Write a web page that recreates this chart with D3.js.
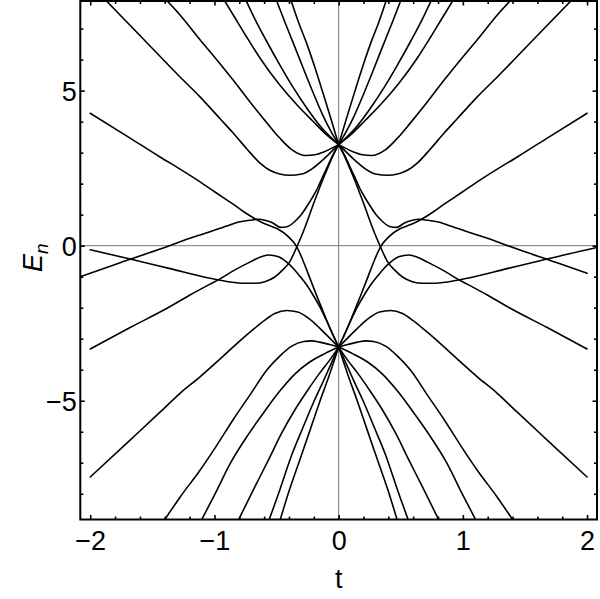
<!DOCTYPE html>
<html>
<head>
<meta charset="utf-8">
<script src="https://cdn.jsdelivr.net/npm/d3@7"></script>
<style>
  html, body { margin: 0; padding: 0; background: #fff; }
  svg { display: block; }
</style>
</head>
<body>
<svg id="chart" width="600" height="599"></svg>
<script>
// ---------- axis data ----------
const tDomain = [-2.08, 2.08];
const eDomain = [-8.83, 7.89];
const tTicksMajor = [-2, -1, 0, 1, 2];
const tTickLabels = ["\u22122", "\u22121", "0", "1", "2"];
const tTicksMinor = [-1.8, -1.6, -1.4, -1.2, -0.8, -0.6, -0.4, -0.2, 0.2, 0.4, 0.6, 0.8, 1.2, 1.4, 1.6, 1.8];
const eTicksMajor = [-5, 0, 5];
const eTickLabels = ["\u22125", "0", "5"];
const eTicksMinor = [-8, -7, -6, -4, -3, -2, -1, 1, 2, 3, 4, 6, 7];
const xLabel = "t";
const yLabelMain = "E";
const yLabelSub = "n";

// ---------- level curves, [t, E] ----------
// curves through the upper crossing (t = 0, E = 3.26)
const F1_left  = [[-0.948,8.09],[-0.835,7.35],[-0.741,6.73],[-0.635,6.06],[-0.474,5.18],[-0.329,4.51],[-0.209,4.02],[-0.096,3.57],[0,3.26]];
const F2_left  = [[-0.767,8.09],[-0.667,7.25],[-0.581,6.60],[-0.474,5.83],[-0.369,5.12],[-0.257,4.44],[-0.137,3.80],[0,3.26]];
const F3_left  = [[-0.518,8.09],[-0.434,7.22],[-0.353,6.41],[-0.273,5.60],[-0.201,4.89],[-0.129,4.22],[-0.064,3.70],[0,3.26]];
const F4_left  = [[-0.398,8.09],[-0.321,7.18],[-0.259,6.54],[-0.193,5.77],[-0.129,4.96],[-0.064,4.12],[0,3.26]];
const U2_left  = [[-1.920,8.10],[-1.598,6.77],[-1.277,5.44],[-1.116,4.80],[-0.956,4.10],[-0.851,3.64],[-0.739,3.12],[-0.635,2.67],[-0.554,2.43],[-0.474,2.31],[-0.394,2.27],[-0.297,2.31],[-0.217,2.47],[-0.137,2.73],[-0.064,3.01],[0,3.26]];
const U3_left  = [[-1.430,8.10],[-1.277,7.44],[-1.116,6.64],[-0.980,5.99],[-0.851,5.35],[-0.715,4.64],[-0.578,3.96],[-0.474,3.47],[-0.378,3.10],[-0.265,2.91],[-0.193,2.93],[-0.120,3.02],[-0.056,3.14],[0,3.26]];
const Q_left   = [[-2.08,-1.00],[-1.759,-0.55],[-1.438,-0.11],[-1.197,0.24],[-1.036,0.45],[-0.876,0.67],[-0.795,0.77],[-0.715,0.82],[-0.651,0.85],[-0.586,0.81],[-0.530,0.73],[-0.466,0.59],[-0.410,0.62],[-0.353,0.78],[-0.297,1.02],[-0.249,1.31],[-0.209,1.57],[-0.169,1.86],[-0.129,2.22],[-0.088,2.57],[-0.048,2.91],[0,3.26]];
const S_left   = [[-2,-0.13],[-1.679,-0.43],[-1.357,-0.74],[-1.036,-1.05],[-0.876,-1.17],[-0.755,-1.21],[-0.675,-1.21],[-0.594,-1.16],[-0.514,-1.01],[-0.450,-0.78],[-0.394,-0.52],[-0.337,-0.04],[-0.289,0.41],[-0.249,0.83],[-0.209,1.28],[-0.169,1.70],[-0.129,2.12],[-0.088,2.51],[-0.048,2.88],[0,3.26]];

const F1_right = [[0,3.26],[0.096,3.57],[0.209,4.02],[0.329,4.51],[0.474,5.18],[0.635,6.06],[0.741,6.73],[0.835,7.35],[0.948,8.09]];
const F2_right = [[0,3.26],[0.137,3.80],[0.257,4.44],[0.369,5.12],[0.474,5.83],[0.581,6.60],[0.667,7.25],[0.767,8.09]];
const F3_right = [[0,3.26],[0.064,3.70],[0.129,4.22],[0.201,4.89],[0.273,5.60],[0.353,6.41],[0.434,7.22],[0.518,8.09]];
const F4_right = [[0,3.26],[0.064,4.12],[0.129,4.96],[0.193,5.77],[0.259,6.54],[0.321,7.18],[0.398,8.09]];
const U2_right = [[0,3.26],[0.064,3.01],[0.137,2.73],[0.217,2.47],[0.297,2.31],[0.394,2.27],[0.474,2.31],[0.554,2.43],[0.635,2.67],[0.739,3.12],[0.851,3.64],[0.956,4.10],[1.116,4.80],[1.277,5.44],[1.598,6.77],[1.920,8.10]];
const U3_right = [[0,3.26],[0.056,3.14],[0.120,3.02],[0.193,2.93],[0.265,2.91],[0.378,3.10],[0.474,3.47],[0.578,3.96],[0.715,4.64],[0.851,5.35],[0.980,5.99],[1.116,6.64],[1.277,7.44],[1.430,8.10]];
const Q_right  = [[0,3.26],[0.048,2.91],[0.088,2.57],[0.129,2.22],[0.169,1.86],[0.209,1.57],[0.249,1.31],[0.297,1.02],[0.353,0.78],[0.410,0.62],[0.466,0.59],[0.530,0.73],[0.586,0.81],[0.651,0.85],[0.715,0.82],[0.795,0.77],[0.876,0.67],[1.036,0.45],[1.197,0.24],[1.438,-0.11],[1.759,-0.55],[2,-0.89]];
const S_right  = [[0,3.26],[0.048,2.88],[0.088,2.51],[0.129,2.12],[0.169,1.70],[0.209,1.28],[0.249,0.83],[0.289,0.41],[0.337,-0.04],[0.394,-0.52],[0.450,-0.78],[0.514,-1.01],[0.594,-1.16],[0.675,-1.21],[0.755,-1.21],[0.876,-1.17],[1.036,-1.05],[1.357,-0.74],[1.679,-0.43],[2,-0.13],[2.08,-0.06]];

// curves through the lower crossing (t = 0, E = -3.27)
const P_left   = [[-2,4.27],[-1.679,3.47],[-1.438,2.86],[-1.277,2.47],[-1.116,2.06],[-0.996,1.73],[-0.835,1.30],[-0.755,1.07],[-0.691,0.91],[-0.618,0.75],[-0.554,0.64],[-0.490,0.54],[-0.410,0.31],[-0.337,-0.04],[-0.289,-0.46],[-0.241,-0.95],[-0.179,-1.59],[-0.120,-2.17],[-0.064,-2.72],[0,-3.27]];
const T_left   = [[-2,-3.33],[-1.679,-2.64],[-1.382,-2.02],[-1.197,-1.59],[-1.036,-1.24],[-0.956,-1.07],[-0.835,-0.78],[-0.715,-0.53],[-0.618,-0.35],[-0.562,-0.30],[-0.490,-0.35],[-0.418,-0.53],[-0.361,-0.75],[-0.313,-0.98],[-0.257,-1.27],[-0.206,-1.59],[-0.153,-1.96],[-0.096,-2.43],[-0.048,-2.85],[0,-3.27]];
const L1_left  = [[-2,-7.46],[-1.679,-6.27],[-1.438,-5.37],[-1.277,-4.76],[-1.116,-4.23],[-0.956,-3.66],[-0.795,-3.07],[-0.675,-2.66],[-0.594,-2.40],[-0.514,-2.19],[-0.418,-2.09],[-0.329,-2.14],[-0.233,-2.37],[-0.153,-2.66],[-0.072,-2.98],[0,-3.27]];
const L2_left  = [[-1.438,-9.06],[-1.277,-8.11],[-1.116,-7.24],[-0.980,-6.43],[-0.851,-5.62],[-0.715,-4.82],[-0.578,-4.01],[-0.474,-3.56],[-0.378,-3.24],[-0.281,-3.09],[-0.217,-3.07],[-0.153,-3.11],[-0.072,-3.19],[0,-3.27]];
const L3_left  = [[-1.133,-9.07],[-0.996,-8.01],[-0.867,-6.98],[-0.731,-6.11],[-0.594,-5.33],[-0.474,-4.69],[-0.353,-4.14],[-0.233,-3.75],[-0.112,-3.48],[0,-3.27]];
const L4_left  = [[-0.827,-9.01],[-0.675,-7.78],[-0.570,-6.95],[-0.458,-6.04],[-0.353,-5.30],[-0.249,-4.66],[-0.153,-4.11],[-0.072,-3.69],[0,-3.27]];
const L5_left  = [[-0.578,-9.04],[-0.474,-7.88],[-0.378,-6.75],[-0.289,-5.88],[-0.201,-5.04],[-0.137,-4.49],[-0.072,-3.91],[0,-3.27]];
const L6_left  = [[-0.486,-9.04],[-0.394,-7.85],[-0.313,-6.91],[-0.233,-5.98],[-0.153,-5.04],[-0.072,-4.14],[0,-3.27]];

const P_right  = [[0,-3.27],[0.064,-2.72],[0.120,-2.17],[0.179,-1.59],[0.241,-0.95],[0.289,-0.46],[0.337,-0.04],[0.410,0.31],[0.490,0.54],[0.554,0.64],[0.618,0.75],[0.691,0.91],[0.755,1.07],[0.835,1.30],[0.996,1.73],[1.116,2.06],[1.277,2.47],[1.438,2.86],[1.679,3.47],[2,4.27]];
const T_right  = [[0,-3.27],[0.048,-2.85],[0.096,-2.43],[0.153,-1.96],[0.206,-1.59],[0.257,-1.27],[0.313,-0.98],[0.361,-0.75],[0.418,-0.53],[0.490,-0.35],[0.562,-0.30],[0.618,-0.35],[0.715,-0.53],[0.835,-0.78],[0.956,-1.07],[1.036,-1.24],[1.197,-1.59],[1.382,-2.02],[1.679,-2.64],[2,-3.33]];
const L1_right = [[0,-3.27],[0.072,-2.98],[0.153,-2.66],[0.233,-2.37],[0.329,-2.14],[0.418,-2.09],[0.514,-2.19],[0.594,-2.40],[0.675,-2.66],[0.795,-3.07],[0.956,-3.66],[1.116,-4.23],[1.277,-4.76],[1.438,-5.37],[1.679,-6.27],[2,-7.46]];
const L2_right = [[0,-3.27],[0.072,-3.19],[0.153,-3.11],[0.217,-3.07],[0.281,-3.09],[0.378,-3.24],[0.474,-3.56],[0.578,-4.01],[0.715,-4.82],[0.851,-5.62],[0.980,-6.43],[1.116,-7.24],[1.277,-8.11],[1.438,-9.06]];
const L3_right = [[0,-3.27],[0.112,-3.48],[0.233,-3.75],[0.353,-4.14],[0.474,-4.69],[0.594,-5.33],[0.731,-6.11],[0.867,-6.98],[0.996,-8.01],[1.133,-9.07]];
const L4_right = [[0,-3.27],[0.072,-3.69],[0.153,-4.11],[0.249,-4.66],[0.353,-5.30],[0.458,-6.04],[0.570,-6.95],[0.675,-7.78],[0.827,-9.01]];
const L5_right = [[0,-3.27],[0.072,-3.91],[0.137,-4.49],[0.201,-5.04],[0.289,-5.88],[0.378,-6.75],[0.474,-7.88],[0.578,-9.04]];
const L6_right = [[0,-3.27],[0.072,-4.14],[0.153,-5.04],[0.233,-5.98],[0.313,-6.91],[0.394,-7.85],[0.486,-9.04]];

const levels = [
  F1_left, F2_left, F3_left, F4_left, U2_left, U3_left, Q_left, S_left,
  F1_right, F2_right, F3_right, F4_right, U2_right, U3_right, Q_right, S_right,
  P_left, T_left, L1_left, L2_left, L3_left, L4_left, L5_left, L6_left,
  P_right, T_right, L1_right, L2_right, L3_right, L4_right, L5_right, L6_right
];

// ---------- drawing ----------
const FONT = "'Liberation Sans', Arial, Helvetica, sans-serif";
const svg = d3.select("#chart");
const x = d3.scaleLinear().domain(tDomain).range([80.3, 597]);
const y = d3.scaleLinear().domain(eDomain).range([519.5, 1]);
const [x0, x1] = x.range();
const [y0, y1] = y.range();

svg.append("defs").append("clipPath").attr("id", "plotclip")
  .append("rect").attr("x", x0).attr("y", y1).attr("width", x1 - x0).attr("height", y0 - y1);

const plot = svg.append("g").attr("clip-path", "url(#plotclip)");

// gray axes through the origin
plot.append("line").attr("x1", x(0)).attr("x2", x(0)).attr("y1", y0).attr("y2", y1)
  .attr("stroke", "#7a7a7a").attr("stroke-width", 1);
plot.append("line").attr("x1", x0).attr("x2", x1).attr("y1", y(0)).attr("y2", y(0))
  .attr("stroke", "#7a7a7a").attr("stroke-width", 1);

const line = d3.line().x(d => x(d[0])).y(d => y(d[1])).curve(d3.curveMonotoneX);
plot.selectAll("path.level").data(levels).enter().append("path")
  .attr("class", "level")
  .attr("d", d => line(d.slice().sort((a, b) => a[0] - b[0])))
  .attr("fill", "none").attr("stroke", "#000").attr("stroke-width", 1.6)
  .attr("stroke-linejoin", "round").attr("stroke-linecap", "round");

// ticks (inward) on all four sides
function styleAxis(g) {
  g.select(".domain").remove();
  g.selectAll(".tick line").attr("stroke", "#000").attr("stroke-width", 1.6);
}
const MAJ = 4.5, MIN = 3;
// bottom
svg.append("g").attr("transform", `translate(0,${y0})`)
  .call(d3.axisBottom(x).tickValues(tTicksMinor).tickSize(-MIN).tickFormat(""))
  .call(styleAxis);
const bottom = svg.append("g").attr("transform", `translate(0,${y0})`)
  .call(d3.axisBottom(x).tickValues(tTicksMajor).tickSize(-MAJ).tickFormat((d, i) => tTickLabels[i]))
  .call(styleAxis);
bottom.selectAll(".tick text").attr("y", 30).attr("dy", 0)
  .attr("font-family", FONT).attr("font-size", 27).attr("fill", "#000");
// top
svg.append("g").attr("transform", `translate(0,${y1})`)
  .call(d3.axisTop(x).tickValues(tTicksMinor).tickSize(-MIN).tickFormat("")).call(styleAxis);
svg.append("g").attr("transform", `translate(0,${y1})`)
  .call(d3.axisTop(x).tickValues(tTicksMajor).tickSize(-MAJ).tickFormat("")).call(styleAxis);
// left
svg.append("g").attr("transform", `translate(${x0},0)`)
  .call(d3.axisLeft(y).tickValues(eTicksMinor).tickSize(-MIN).tickFormat("")).call(styleAxis);
const left = svg.append("g").attr("transform", `translate(${x0},0)`)
  .call(d3.axisLeft(y).tickValues(eTicksMajor).tickSize(-MAJ).tickFormat((d, i) => eTickLabels[i]))
  .call(styleAxis);
left.selectAll(".tick text").attr("x", -3.5).attr("dy", "0.38em")
  .attr("font-family", FONT).attr("font-size", 27).attr("fill", "#000");
// right
svg.append("g").attr("transform", `translate(${x1},0)`)
  .call(d3.axisRight(y).tickValues(eTicksMinor).tickSize(-MIN).tickFormat("")).call(styleAxis);
svg.append("g").attr("transform", `translate(${x1},0)`)
  .call(d3.axisRight(y).tickValues(eTicksMajor).tickSize(-MAJ).tickFormat("")).call(styleAxis);

// frame
svg.append("rect").attr("x", x0).attr("y", y1).attr("width", x1 - x0).attr("height", y0 - y1)
  .attr("fill", "none").attr("stroke", "#000").attr("stroke-width", 2);

// axis labels
svg.append("text").attr("x", x(0)).attr("y", 588).attr("text-anchor", "middle")
  .attr("font-family", FONT).attr("font-size", 27).attr("fill", "#000").text(xLabel);

const yl = svg.append("text").attr("transform", `translate(42,${y(0) + 12}) rotate(-90)`)
  .attr("text-anchor", "middle").attr("font-family", FONT).attr("font-size", 27).attr("fill", "#000");
yl.append("tspan").attr("font-style", "italic").text(yLabelMain);
yl.append("tspan").attr("font-style", "italic").attr("font-size", 19).attr("dy", 6).text(yLabelSub);
</script>
</body>
</html>
